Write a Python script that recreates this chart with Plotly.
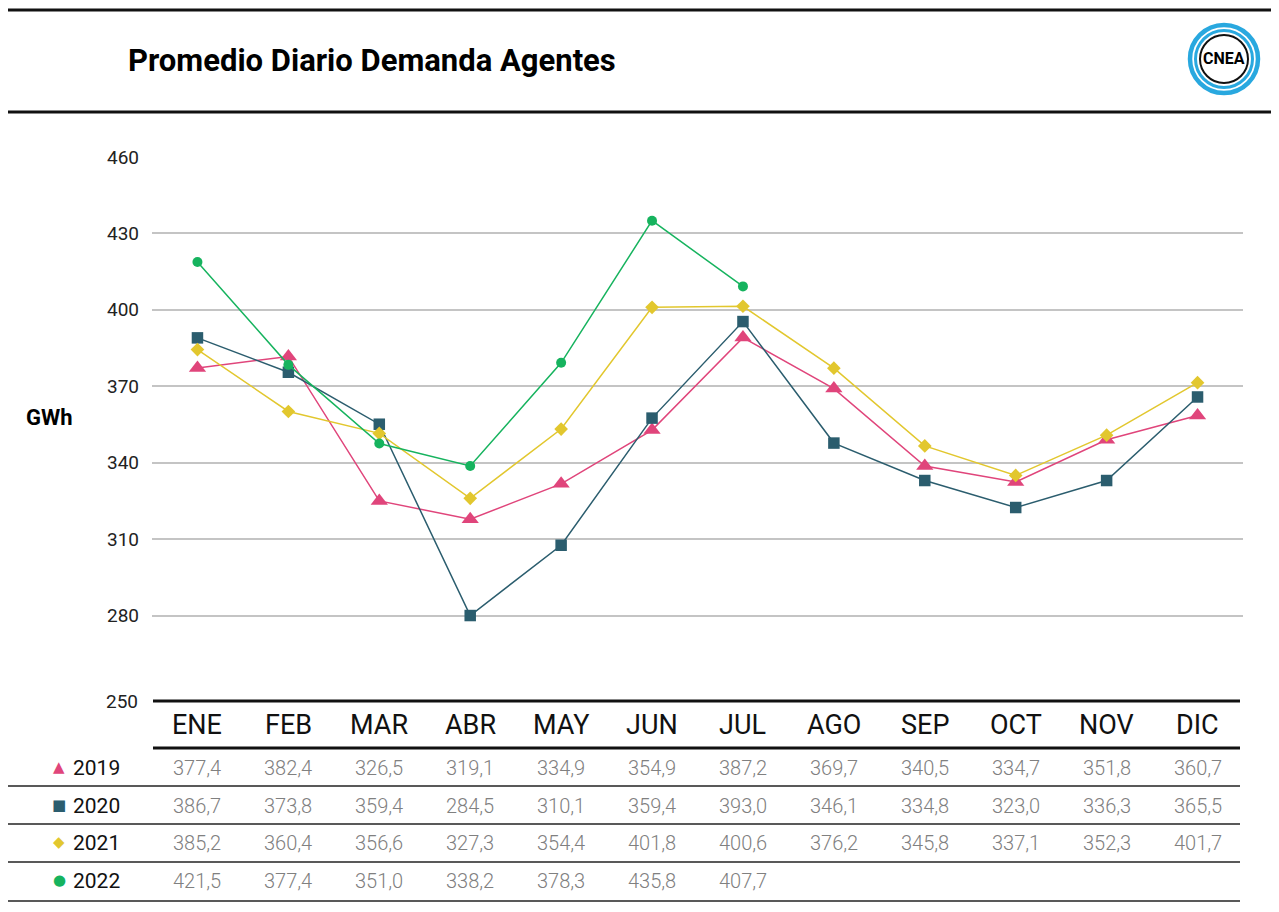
import plotly.graph_objects as go

# ---------------- data ----------------
months = ["ENE", "FEB", "MAR", "ABR", "MAY", "JUN", "JUL", "AGO", "SEP", "OCT", "NOV", "DIC"]
years = ["2019", "2020", "2021", "2022"]

# values as plotted in the chart (GWh)
v2019 = [377.2, 381.7, 325.0, 317.8, 331.7, 352.8, 389.1, 369.1, 338.7, 332.4, 349.0, 358.5]
v2020 = [389.0, 375.5, 355.1, 280.0, 307.6, 357.5, 395.4, 347.7, 333.0, 322.4, 333.0, 365.8]
v2021 = [384.4, 360.1, 351.5, 326.0, 353.2, 401.0, 401.4, 377.1, 346.6, 335.0, 350.8, 371.4]
v2022 = [418.8, 378.4, 347.5, 338.7, 379.2, 435.0, 409.2]

# values as printed in the table
t2019 = ["377,4", "382,4", "326,5", "319,1", "334,9", "354,9", "387,2", "369,7", "340,5", "334,7", "351,8", "360,7"]
t2020 = ["386,7", "373,8", "359,4", "284,5", "310,1", "359,4", "393,0", "346,1", "334,8", "323,0", "336,3", "365,5"]
t2021 = ["385,2", "360,4", "356,6", "327,3", "354,4", "401,8", "400,6", "376,2", "345,8", "337,1", "352,3", "401,7"]
t2022 = ["421,5", "377,4", "351,0", "338,2", "378,3", "435,8", "407,7"]

yticks = [280, 310, 340, 370, 400, 430, 460]
title = "Promedio Diario Demanda Agentes"
unit = "GWh"

# ---------------- styles ----------------
colors = ["#e0457b", "#2b5d6e", "#e2c72e", "#16b35e"]
symbols = ["triangle-up", "square", "diamond", "circle"]
msizes = [15, 11.5, 10.5, 10]
glyphs = ["▲", "■", "◆", "●"]
FONT = "Roboto"

OFF = 8  # page body margin
W, H = 1279 - OFF, 912 - OFF
L, R, T, B = 152 - OFF, 36, 157 - OFF, 211
pw, ph = W - L - R, H - T - B


def px(x):
    return (x - OFF - L) / pw


def py(y):
    return (H - B - (y - OFF)) / ph


fig = go.Figure()
for vals, yr, c, s, ms in zip([v2019, v2020, v2021, v2022], years, colors, symbols, msizes):
    fig.add_trace(go.Scatter(
        x=months[:len(vals)], y=vals, name=yr, mode="lines+markers",
        line=dict(color=c, width=1.5),
        marker=dict(symbol=s, size=ms, color=c, line=dict(width=0)),
        cliponaxis=False,
    ))

shapes = []
# top rules
for yy in [10, 112]:
    shapes.append(dict(type="line", xref="paper", yref="paper", x0=px(7), x1=px(1285), y0=py(yy), y1=py(yy),
                       line=dict(color="#111", width=3)))
# table rules
for yy in [701, 748]:
    shapes.append(dict(type="line", xref="paper", yref="paper", x0=px(153), x1=px(1240), y0=py(yy), y1=py(yy),
                       line=dict(color="#111", width=3)))
for yy in [786, 824, 862, 901]:
    shapes.append(dict(type="line", xref="paper", yref="paper", x0=px(7), x1=px(1240), y0=py(yy), y1=py(yy),
                       line=dict(color="#222", width=1.5)))

# logo rings
cx, cy = 1224, 59


def circ(r, color, width):
    return dict(type="circle", xref="paper", yref="paper",
                x0=px(cx - r), x1=px(cx + r), y0=py(cy + r), y1=py(cy - r),
                line=dict(color=color, width=width), fillcolor="rgba(0,0,0,0)")


shapes.append(circ(34, "#29a8df", 4.5))
shapes.append(circ(28.5, "#29a8df", 3))
shapes.append(circ(24, "#111", 2))

annotations = []
annotations.append(dict(text="<b>" + title + "</b>", x=px(126), y=py(61), xref="paper", yref="paper",
                        xanchor="left", yanchor="middle", showarrow=False,
                        font=dict(family=FONT, size=31, color="#000")))
annotations.append(dict(text="<b>CNEA</b>", x=px(cx), y=py(cy), xref="paper", yref="paper",
                        xanchor="center", yanchor="middle", showarrow=False,
                        font=dict(family=FONT, size=16, color="#000")))
annotations.append(dict(text="<b>" + unit + "</b>", x=px(24), y=py(417), xref="paper", yref="paper",
                        xanchor="left", yanchor="middle", showarrow=False,
                        font=dict(family=FONT, size=22, color="#000")))
annotations.append(dict(text="250", x=px(140), y=py(701), xref="paper", yref="paper",
                        xanchor="right", yanchor="middle", showarrow=False,
                        font=dict(family=FONT, size=19, color="#222")))

# month header
for i, m in enumerate(months):
    annotations.append(dict(text=m, x=i, y=py(725), xref="x", yref="paper",
                            xanchor="center", yanchor="middle", showarrow=False,
                            font=dict(family=FONT, size=27, color="#111")))

row_y = [768, 806, 843, 881]
for tv, yr, c, g, ry in zip([t2019, t2020, t2021, t2022], years, colors, glyphs, row_y):
    annotations.append(dict(text=g, x=px(59), y=py(ry - 1), xref="paper", yref="paper",
                            xanchor="center", yanchor="middle", showarrow=False,
                            font=dict(family="DejaVu Sans", size=15, color=c)))
    annotations.append(dict(text=yr, x=px(71), y=py(ry), xref="paper", yref="paper",
                            xanchor="left", yanchor="middle", showarrow=False,
                            font=dict(family=FONT, size=21, color="#111")))
    for i, t in enumerate(tv):
        annotations.append(dict(text=t, x=i, y=py(ry), xref="x", yref="paper",
                                xanchor="center", yanchor="middle", showarrow=False,
                                font=dict(family=FONT, size=20, color="#808080", weight=300)))

fig.update_layout(
    width=W, height=H,
    margin=dict(l=L, r=R, t=T, b=B, pad=0),
    paper_bgcolor="white", plot_bgcolor="white",
    showlegend=False,
    shapes=shapes,
    annotations=annotations,
    xaxis=dict(type="category", range=[-0.5, 11.5], showticklabels=False, showgrid=False,
               zeroline=False, showline=False, ticks=""),
    yaxis=dict(range=[246.45, 460], tickvals=yticks, showgrid=True, gridcolor="#c4c4c4", gridwidth=1.5,
               zeroline=False, showline=False, ticks="", ticklabelstandoff=12,
               tickfont=dict(family=FONT, size=19, color="#222")),
)

fig.write_html("out.html")
